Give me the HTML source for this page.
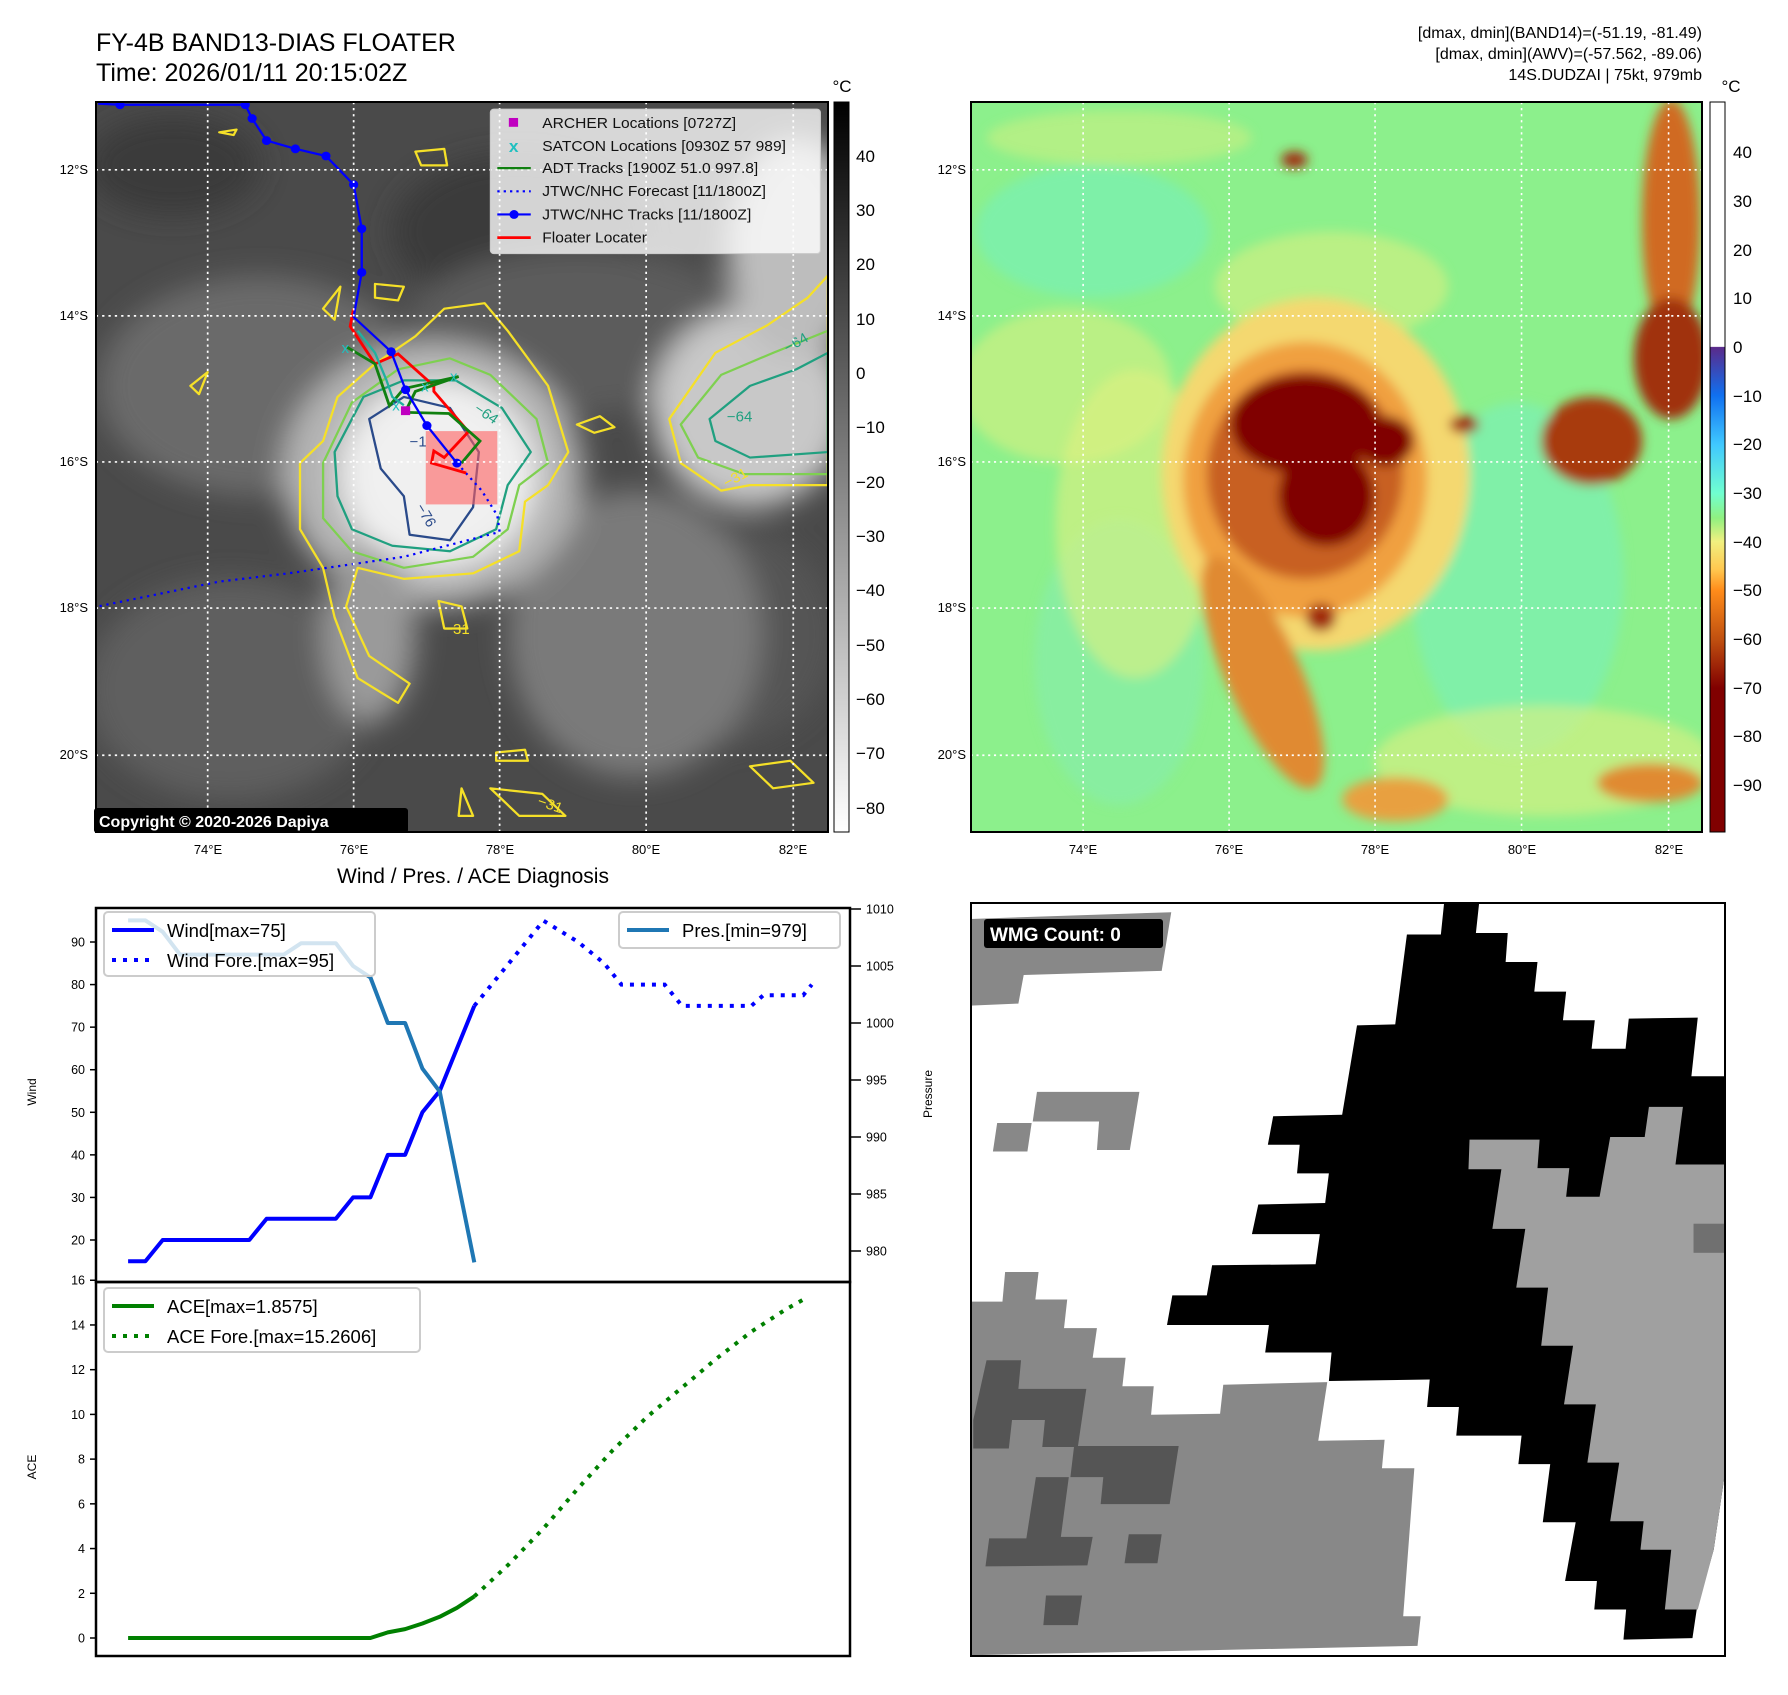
<!DOCTYPE html>
<html><head><meta charset="utf-8">
<style>
html,body{margin:0;padding:0;background:#fff;}
svg text{font-family:"Liberation Sans","DejaVu Sans",sans-serif;}
</style></head>
<body>
<svg id="root" width="1788" height="1690" viewBox="0 0 1788 1690" xmlns="http://www.w3.org/2000/svg">
<defs>
  <filter id="blur8" x="-20%" y="-20%" width="140%" height="140%"><feGaussianBlur stdDeviation="10"/></filter>
  <filter id="blur20" x="-30%" y="-30%" width="160%" height="160%"><feGaussianBlur stdDeviation="25"/></filter>
  <linearGradient id="cbGray" x1="0" y1="0" x2="0" y2="1">
    <stop offset="0" stop-color="#000"/><stop offset="1" stop-color="#fff"/>
  </linearGradient>
  <linearGradient id="cbColor" x1="0" y1="0" x2="0" y2="1">
    <stop offset="0" stop-color="#fff"/>
    <stop offset="0.335" stop-color="#fff"/>
    <stop offset="0.336" stop-color="#5a2a8a"/>
    <stop offset="0.402" stop-color="#1070f0"/>
    <stop offset="0.469" stop-color="#40c8ff"/>
    <stop offset="0.536" stop-color="#70ffd0"/>
    <stop offset="0.570" stop-color="#90f080"/>
    <stop offset="0.602" stop-color="#f0f080"/>
    <stop offset="0.640" stop-color="#ffc850"/>
    <stop offset="0.669" stop-color="#ff8c1a"/>
    <stop offset="0.736" stop-color="#c05010"/>
    <stop offset="0.803" stop-color="#800000"/>
    <stop offset="1" stop-color="#800000"/>
  </linearGradient>
  <clipPath id="clipL"><rect x="166" y="185" width="1269" height="1325"/></clipPath>
  <clipPath id="clipR"><rect x="20" y="185" width="1378" height="1325"/></clipPath>
</defs>

<!-- ================= TOP LEFT MAP ================= -->
<text x="96" y="51" font-size="25">FY-4B BAND13-DIAS FLOATER</text>
<text x="96" y="81" font-size="25">Time: 2026/01/11 20:15:02Z</text>

<svg x="0" y="0" width="900" height="860" viewBox="0 0 1560 1560" preserveAspectRatio="none">
 <g clip-path="url(#clipL)">
  <rect x="166" y="185" width="1269" height="1325" fill="#4a4a4a"/>
  <g filter="url(#blur20)">
    <ellipse cx="300" cy="300" rx="150" ry="90" fill="#3a3a3a"/>
    <ellipse cx="900" cy="420" rx="220" ry="140" fill="#3a3a3a"/>
    <ellipse cx="1250" cy="1150" rx="200" ry="200" fill="#555"/>
    <ellipse cx="450" cy="700" rx="280" ry="200" fill="#6a6a6a"/>
    <ellipse cx="1000" cy="600" rx="300" ry="150" fill="#5c5c5c"/>
    <ellipse cx="1100" cy="1150" rx="220" ry="260" fill="#7a7a7a"/>
    <ellipse cx="400" cy="1250" rx="250" ry="200" fill="#5e5e5e"/>
    <ellipse cx="1300" cy="740" rx="170" ry="180" fill="#c8c8c8"/>
    <ellipse cx="1380" cy="450" rx="120" ry="200" fill="#bdbdbd"/>
    <ellipse cx="750" cy="860" rx="260" ry="240" fill="#b4b4b4"/>
    <ellipse cx="640" cy="1150" rx="80" ry="160" fill="#9a9a9a"/>
    <ellipse cx="760" cy="860" rx="170" ry="170" fill="#f0f0f0"/>
  </g>
  <g fill="none" stroke-width="4" stroke-linejoin="round">
   <path d="M520,840 L560,800 L585,720 L650,660 L720,610 L770,560 L840,550 L880,600 L950,700 L985,820 L950,880 L910,910 L900,1000 L820,1040 L700,1050 L620,1030 L600,1100 L640,1190 L710,1240 L690,1275 L620,1230 L580,1120 L560,1030 L520,960 L520,880 Z" stroke="#f5e028"/>
   <path d="M560,840 L610,730 L690,670 L780,650 L850,680 L930,760 L950,840 L900,880 L880,960 L820,1010 L700,1030 L610,1000 L560,940 Z" stroke="#7ed050"/>
   <path d="M580,820 L630,720 L700,690 L790,690 L870,740 L920,820 L880,880 L860,960 L780,1000 L680,990 L610,960 L585,900 Z" stroke="#20a080"/>
   <path d="M640,760 L700,720 L780,740 L830,820 L820,920 L780,980 L710,970 L700,900 L660,850 Z" stroke="#2a4a8a"/>
   <path d="M1160,760 L1240,640 L1330,590 L1400,540 L1435,500 L1435,880 L1300,880 L1250,890 L1180,840 Z" stroke="#f5e028"/>
   <path d="M1180,770 L1250,680 L1340,640 L1435,600 L1435,860 L1290,860 L1210,830 Z" stroke="#7ed050"/>
   <path d="M1230,760 L1300,700 L1380,670 L1435,640 L1435,820 L1300,830 L1240,800 Z" stroke="#20a080"/>
   <path d="M560,560 L590,520 L580,580 Z M650,515 L700,520 L690,545 L650,540 Z M330,700 L360,675 L345,715 Z M1000,770 L1040,755 L1065,775 L1030,785 Z M760,1090 L800,1100 L810,1140 L770,1140 Z M860,1365 L910,1360 L915,1380 L860,1380 Z M850,1430 L940,1440 L980,1480 L900,1480 Z M1300,1390 L1370,1380 L1410,1420 L1340,1430 Z M380,240 L410,235 L405,245 Z M720,275 L770,270 L775,300 L730,300 Z M800,1430 L820,1480 L795,1480 Z" stroke="#f5e028"/>
  </g>
  <g font-size="26">
   <text x="820" y="745" fill="#20a080" transform="rotate(35 820 745)">−64</text>
   <text x="710" y="810" fill="#2a4a8a">−1</text>
   <text x="720" y="920" fill="#2a4a8a" transform="rotate(60 720 920)">−76</text>
   <text x="1260" y="765" fill="#20a080">−64</text>
   <text x="1365" y="640" fill="#20a080" transform="rotate(-30 1365 640)">−64</text>
   <text x="770" y="1150" fill="#f5e028">−31</text>
   <text x="1260" y="885" fill="#f5e028" transform="rotate(-30 1260 885)">−31</text>
   <text x="930" y="1460" fill="#f5e028" transform="rotate(20 930 1460)">−31</text>
  </g>
  <rect x="738" y="782" width="124" height="133" fill="#ff6060" fill-opacity="0.6"/>
  <polyline points="792,840 835,890 862,935 866,965 700,1010 500,1040 380,1055 170,1100" fill="none" stroke="#0000ff" stroke-width="4" stroke-dasharray="4,8"/>
  <polyline points="613,560 607,592 650,660 690,642 752,700 752,710 812,783 770,830 752,818 748,840 808,858" fill="none" stroke="#ff0000" stroke-width="5"/>
  <polyline points="602,630 650,660 675,736 700,705 795,683 720,710 702,748 778,750 832,800 800,840" fill="none" stroke="#108010" stroke-width="5"/>
  <polyline points="620,600 650,640 670,690 680,720 700,735" fill="none" stroke="#20b0a0" stroke-width="4"/>
  <g fill="#20c0c0" font-size="26">
   <text x="592" y="640">x</text><text x="680" y="745">x</text><text x="730" y="710">x</text><text x="780" y="692">x</text>
  </g>
  <rect x="695" y="737" width="16" height="16" fill="#c000c0"/>
  <polyline points="170,188 208,190 425,190 437,215 462,255 512,270 565,283 613,335 627,415 627,494 613,575 678,638 703,707 740,772 792,840" fill="none" stroke="#0000ff" stroke-width="4"/>
  <g fill="#0000ff">
   <circle cx="208" cy="190" r="8"/><circle cx="425" cy="190" r="8"/><circle cx="437" cy="215" r="8"/><circle cx="462" cy="255" r="8"/><circle cx="512" cy="270" r="8"/><circle cx="565" cy="283" r="8"/><circle cx="613" cy="335" r="8"/><circle cx="627" cy="415" r="8"/><circle cx="627" cy="494" r="8"/><circle cx="678" cy="638" r="8"/><circle cx="703" cy="707" r="8"/><circle cx="740" cy="772" r="8"/><circle cx="792" cy="840" r="8"/>
  </g>
  <g stroke="#fff" stroke-width="3" stroke-dasharray="4,7">
   <line x1="360" y1="185" x2="360" y2="1510"/><line x1="613" y1="185" x2="613" y2="1510"/><line x1="866" y1="185" x2="866" y2="1510"/><line x1="1120" y1="185" x2="1120" y2="1510"/><line x1="1375" y1="185" x2="1375" y2="1510"/>
   <line x1="166" y1="308" x2="1435" y2="308"/><line x1="166" y1="573" x2="1435" y2="573"/><line x1="166" y1="838" x2="1435" y2="838"/><line x1="166" y1="1103" x2="1435" y2="1103"/><line x1="166" y1="1370" x2="1435" y2="1370"/>
  </g>
  <g>
   <rect x="850" y="198" width="572" height="262" rx="6" fill="#fff" fill-opacity="0.78" stroke="#ccc" stroke-width="2"/>
   <rect x="882" y="214" width="16" height="16" fill="#c000c0"/>
   <text x="882" y="276" font-size="30" fill="#20c0c0" font-weight="bold">x</text>
   <line x1="862" y1="305" x2="920" y2="305" stroke="#108010" stroke-width="4"/>
   <line x1="862" y1="347" x2="920" y2="347" stroke="#0000ff" stroke-width="4" stroke-dasharray="4,7"/>
   <line x1="862" y1="389" x2="920" y2="389" stroke="#0000ff" stroke-width="4"/><circle cx="891" cy="389" r="8" fill="#0000ff"/>
   <line x1="862" y1="431" x2="920" y2="431" stroke="#ff0000" stroke-width="5"/>
   <g font-size="27" fill="#111">
    <text x="940" y="232">ARCHER Locations [0727Z]</text>
    <text x="940" y="274">SATCON Locations [0930Z 57 989]</text>
    <text x="940" y="314">ADT Tracks [1900Z 51.0 997.8]</text>
    <text x="940" y="356">JTWC/NHC Forecast [11/1800Z]</text>
    <text x="940" y="398">JTWC/NHC Tracks [11/1800Z]</text>
    <text x="940" y="440">Floater Locater</text>
   </g>
  </g>
 </g>
</svg>
<rect x="96" y="102" width="732" height="730" fill="none" stroke="#000" stroke-width="2"/>
<rect x="94" y="808" width="314" height="25" rx="3" fill="#000"/>
<text x="99" y="827" font-size="16" font-weight="bold" fill="#fff">Copyright © 2020-2026 Dapiya</text>
<g font-size="13" fill="#000" text-anchor="end">
 <text x="88" y="174">12°S</text><text x="88" y="320">14°S</text><text x="88" y="466">16°S</text><text x="88" y="612">18°S</text><text x="88" y="759">20°S</text>
</g>
<g font-size="13" fill="#000" text-anchor="middle">
 <text x="208" y="854">74°E</text><text x="354" y="854">76°E</text><text x="500" y="854">78°E</text><text x="646" y="854">80°E</text><text x="793" y="854">82°E</text>
</g>
<rect x="834" y="102" width="15" height="730" fill="url(#cbGray)" stroke="#000" stroke-width="1"/>
<text x="842" y="92" font-size="17" text-anchor="middle">°C</text>
<g font-size="17">
 <text x="856" y="162">40</text><text x="856" y="216">30</text><text x="856" y="270">20</text><text x="856" y="325">10</text><text x="856" y="379">0</text>
 <text x="856" y="433">−10</text><text x="856" y="488">−20</text><text x="856" y="542">−30</text><text x="856" y="596">−40</text><text x="856" y="651">−50</text>
 <text x="856" y="705">−60</text><text x="856" y="759">−70</text><text x="856" y="814">−80</text>
</g>

<!-- ================= TOP RIGHT MAP ================= -->
<g font-size="16" text-anchor="end">
 <text x="1702" y="38">[dmax, dmin](BAND14)=(-51.19, -81.49)</text>
 <text x="1702" y="59">[dmax, dmin](AWV)=(-57.562, -89.06)</text>
 <text x="1702" y="80">14S.DUDZAI | 75kt, 979mb</text>
</g>
<svg x="960" y="0" width="828" height="860" viewBox="0 0 1560 1560" preserveAspectRatio="none">
 <g clip-path="url(#clipR)">
  <rect x="20" y="185" width="1378" height="1325" fill="#8cf08c"/>
  <g filter="url(#blur8)">
   <ellipse cx="250" cy="420" rx="220" ry="120" fill="#7ef0a8"/>
   <ellipse cx="1050" cy="1050" rx="200" ry="320" fill="#80f0a8"/>
   <ellipse cx="300" cy="1200" rx="160" ry="260" fill="#88eea0"/>
   <ellipse cx="200" cy="700" rx="200" ry="140" fill="#d8f080" opacity="0.6"/>
   <ellipse cx="330" cy="950" rx="150" ry="280" fill="#e0f080" opacity="0.6"/>
   <ellipse cx="700" cy="520" rx="220" ry="100" fill="#d8f080" opacity="0.6"/>
   <ellipse cx="1100" cy="1380" rx="320" ry="100" fill="#e0f080" opacity="0.6"/>
   <ellipse cx="300" cy="250" rx="250" ry="50" fill="#d8f080" opacity="0.5"/>
   <ellipse cx="670" cy="860" rx="290" ry="320" fill="#f4d870"/>
   <ellipse cx="650" cy="870" rx="230" ry="250" fill="#f0a040"/>
   <ellipse cx="570" cy="1220" rx="70" ry="230" fill="#e08a30" transform="rotate(-25 570 1220)"/>
   <ellipse cx="650" cy="860" rx="185" ry="190" fill="#c86020"/>
   <ellipse cx="650" cy="770" rx="140" ry="90" fill="#800000"/>
   <ellipse cx="690" cy="900" rx="90" ry="90" fill="#800000"/>
   <ellipse cx="800" cy="800" rx="55" ry="45" fill="#800000"/>
   <ellipse cx="680" cy="1120" rx="28" ry="25" fill="#a02a10"/>
   <ellipse cx="950" cy="770" rx="28" ry="16" fill="#a02a10"/>
   <ellipse cx="1340" cy="400" rx="55" ry="220" fill="#d06a20"/>
   <ellipse cx="1340" cy="650" rx="70" ry="110" fill="#a03010"/>
   <ellipse cx="1190" cy="800" rx="95" ry="80" fill="#a83a10"/>
   <ellipse cx="1300" cy="1420" rx="100" ry="35" fill="#e08a30"/>
   <ellipse cx="820" cy="1450" rx="100" ry="40" fill="#e8a040"/>
   <ellipse cx="630" cy="290" rx="25" ry="15" fill="#a02a10"/>
  </g>
  <g stroke="#fff" stroke-width="3" stroke-dasharray="4,7">
   <line x1="232" y1="185" x2="232" y2="1510"/><line x1="507" y1="185" x2="507" y2="1510"/><line x1="782" y1="185" x2="782" y2="1510"/><line x1="1058" y1="185" x2="1058" y2="1510"/><line x1="1335" y1="185" x2="1335" y2="1510"/>
   <line x1="20" y1="308" x2="1398" y2="308"/><line x1="20" y1="573" x2="1398" y2="573"/><line x1="20" y1="838" x2="1398" y2="838"/><line x1="20" y1="1103" x2="1398" y2="1103"/><line x1="20" y1="1370" x2="1398" y2="1370"/>
  </g>
 </g>
</svg>
<rect x="971" y="102" width="731" height="730" fill="none" stroke="#000" stroke-width="2"/>
<g font-size="13" fill="#000" text-anchor="end">
 <text x="966" y="174">12°S</text><text x="966" y="320">14°S</text><text x="966" y="466">16°S</text><text x="966" y="612">18°S</text><text x="966" y="759">20°S</text>
</g>
<g font-size="13" fill="#000" text-anchor="middle">
 <text x="1083" y="854">74°E</text><text x="1229" y="854">76°E</text><text x="1375" y="854">78°E</text><text x="1522" y="854">80°E</text><text x="1669" y="854">82°E</text>
</g>
<rect x="1710" y="102" width="15" height="730" fill="url(#cbColor)" stroke="#000" stroke-width="1"/>
<text x="1731" y="92" font-size="17" text-anchor="middle">°C</text>
<g font-size="17">
 <text x="1733" y="158">40</text><text x="1733" y="207">30</text><text x="1733" y="256">20</text><text x="1733" y="304">10</text><text x="1733" y="353">0</text>
 <text x="1733" y="402">−10</text><text x="1733" y="450">−20</text><text x="1733" y="499">−30</text><text x="1733" y="548">−40</text><text x="1733" y="596">−50</text>
 <text x="1733" y="645">−60</text><text x="1733" y="694">−70</text><text x="1733" y="742">−80</text><text x="1733" y="791">−90</text>
</g>

<!-- ================= BOTTOM RIGHT WMG ================= -->
<svg x="960" y="880" width="828" height="810" viewBox="0 0 1560 1560" preserveAspectRatio="none">
 <rect x="20" y="45" width="1420" height="1450" fill="#fff"/>
 <path d="M20,75 L398,62 L380,175 L120,183 L110,238 L20,242 Z" fill="#888"/>
 <path d="M145,408 L338,408 L320,520 L258,520 L262,465 L137,465 Z M70,468 L135,468 L127,523 L62,523 Z" fill="#888"/>
 <path d="M912,45 L978,45 L972,102 L1032,102 L1028,158 L1088,158 L1082,215 L1142,215 L1136,270 L1196,270 L1190,325 L1254,325 L1260,267 L1390,265 L1378,378 L1440,378 L1440,1150 L1420,1290 L1388,1405 L1380,1460 L1250,1463 L1255,1405 L1195,1405 L1200,1350 L1140,1350 L1160,1237 L1098,1237 L1112,1125 L1052,1125 L1058,1070 L935,1070 L940,1015 L880,1015 L885,962 L695,965 L700,910 L575,910 L582,857 L390,857 L400,800 L465,800 L475,742 L670,740 L678,682 L550,682 L562,625 L688,622 L695,565 L635,565 L640,510 L580,510 L590,455 L720,452 L748,280 L820,278 L842,105 L906,105 Z" fill="#000"/>
 <path d="M960,500 L1092,500 L1088,555 L1148,555 L1142,610 L1205,610 L1225,495 L1290,495 L1298,437 L1362,437 L1348,548 L1440,548 L1440,1150 L1420,1290 L1390,1405 L1328,1405 L1340,1290 L1282,1290 L1288,1235 L1225,1235 L1242,1122 L1182,1122 L1198,1010 L1138,1010 L1155,897 L1095,897 L1108,785 L1048,785 L1065,672 L1003,672 L1020,557 L958,557 Z" fill="#a0a0a0"/>
 <rect x="1382" y="662" width="58" height="56" fill="#707070"/>
 <path d="M20,812 L80,812 L85,755 L148,755 L142,808 L202,808 L196,863 L258,863 L250,920 L312,920 L306,975 L365,975 L360,1030 L490,1028 L496,972 L692,967 L675,1080 L800,1078 L795,1133 L856,1133 L835,1418 L868,1418 L862,1475 L20,1493 Z" fill="#888"/>
 <path d="M50,925 L115,925 L110,980 L238,980 L222,1092 L155,1092 L160,1040 L98,1040 L92,1095 L25,1095 L25,1040 Z M215,1090 L412,1090 L395,1202 L265,1202 L270,1150 L208,1150 Z M143,1150 L205,1150 L190,1265 L250,1265 L240,1320 L48,1322 L55,1268 L125,1268 Z M318,1260 L380,1260 L372,1316 L310,1316 Z M162,1378 L230,1378 L222,1435 L157,1435 Z" fill="#555"/>
</svg>
<rect x="971" y="903" width="754" height="753" fill="none" stroke="#000" stroke-width="2"/>
<rect x="984" y="919" width="179" height="29" rx="3" fill="#000"/>
<text x="990" y="941" font-size="19" font-weight="bold" fill="#fff">WMG Count: 0</text>

<!-- ================= BOTTOM LEFT CHART ================= -->
<text x="473" y="883" font-size="21" text-anchor="middle">Wind / Pres. / ACE Diagnosis</text>
<g id="chart"></g>
</svg>

<script>
// ---- chart data ----
const windIdx = [0,1,2,3,4,5,6,7,8,9,10,11,12,13,14,15,16,17,18,19,20];
const windVals = [15,15,20,20,20,20,20,20,25,25,25,25,25,30,30,40,40,50,55,65,75];
const presVals = [1009,1009,1008,1006,1006,1006,1006,1006,1006,1006,1007,1007,1007,1005,1004,1000,1000,996,994,986.5,979];
const windForeIdx = [20,22,24,26,27.5,28.5,31,32,36,36.7,39,39.5];
const windForeVals = [75,85,95,90,85,80,80,75,75,77.5,77.5,80];
const aceVals = [0,0,0,0,0,0,0,0,0,0,0,0,0,0,0,0.25,0.4,0.65,0.95,1.35,1.86];
const aceForeIdx = [20,22,24,26,28,30,32,34,36,38,39.3];
const aceForeVals = [1.86,3.3,4.9,6.7,8.4,9.9,11.2,12.5,13.7,14.7,15.26];
const windTicks = [20,30,40,50,60,70,80,90];
const presTicks = [980,985,990,995,1000,1005,1010];
const aceTicks = [0,2,4,6,8,10,12,14,16];

// ---- axis functions ----
const X0 = 96, X1 = 850, TOP = 908, MID = 1282, BOT = 1656;
function xS(i){ return 128.1 + 17.31*i; }
function yW(v){ return 1240 - (v-20)*4.257; }
function yP(p){ return 1251 - (p-980)*11.4; }
function yA(a){ return 1638 - a*22.36; }

const NS = "http://www.w3.org/2000/svg";
const chart = document.getElementById('chart');
function mk(tag, attrs, parent){
  const el = document.createElementNS(NS, tag);
  for (const k in attrs) el.setAttribute(k, attrs[k]);
  (parent||chart).appendChild(el);
  return el;
}
function pts(xs, ys, fy){ return xs.map((x,j)=>xS(x).toFixed(1)+','+fy(ys[j]).toFixed(1)).join(' '); }

let el;
el = mk('rect',{x:X0,y:TOP,width:X1-X0,height:MID-TOP,fill:'none',stroke:'#000','stroke-width':2.5});


el = mk('rect',{x:X0,y:MID,width:X1-X0,height:BOT-MID,fill:'none',stroke:'#000','stroke-width':2.5});



windTicks.forEach(v=>{
  const y = yW(v);
  el = mk('line',{x1:X0-6,y1:y,x2:X0,y2:y,stroke:'#000','stroke-width':1.5});
  
  
  el = mk('text',{x:X0-11,y:y+4.5,'font-size':12.5,'text-anchor':'end'});
  el.textContent = v;
  
  
});
presTicks.forEach(v=>{
  const y = yP(v);
  el = mk('line',{x1:X1,y1:y,x2:X1+11,y2:y,stroke:'#000','stroke-width':1.5});
  
  
  el = mk('text',{x:X1+16,y:y+4.5,'font-size':12.5});
  el.textContent = v;
  
  
});
aceTicks.forEach(v=>{
  const y = yA(v);
  el = mk('line',{x1:X0-6,y1:y,x2:X0,y2:y,stroke:'#000','stroke-width':1.5});
  
  
  el = mk('text',{x:X0-11,y:y+4.5,'font-size':12.5,'text-anchor':'end'});
  el.textContent = v;
  
  
});
el = mk('text',{x:36,y:1092,'font-size':12,'text-anchor':'middle',transform:'rotate(-90 36 1092)'});
el.textContent = 'Wind';


el = mk('text',{x:36,y:1467,'font-size':12,'text-anchor':'middle',transform:'rotate(-90 36 1467)'});
el.textContent = 'ACE';


el = mk('text',{x:932,y:1094,'font-size':12,'text-anchor':'middle',transform:'rotate(-90 932 1094)'});
el.textContent = 'Pressure';



el = mk('polyline',{points:pts(windIdx,windVals,yW),fill:'none',stroke:'#0000ff','stroke-width':4,'stroke-linejoin':'round'});


el = mk('polyline',{points:pts(windForeIdx,windForeVals,yW),fill:'none',stroke:'#0000ff','stroke-width':4,'stroke-dasharray':'4,7'});


el = mk('polyline',{points:pts(windIdx,presVals,yP),fill:'none',stroke:'#1f77b4','stroke-width':4,'stroke-linejoin':'round'});


el = mk('polyline',{points:pts(windIdx,aceVals,yA),fill:'none',stroke:'#008000','stroke-width':4,'stroke-linejoin':'round'});


el = mk('polyline',{points:pts(aceForeIdx,aceForeVals,yA),fill:'none',stroke:'#008000','stroke-width':4,'stroke-dasharray':'4,7'});



function legend(name, x, y, w, h, items){
  const g = mk('g',{});
  
  
  mk('rect',{x:x,y:y,width:w,height:h,rx:4,fill:'#fff','fill-opacity':0.8,stroke:'#ccc','stroke-width':2},g);
  items.forEach((it,k)=>{
    const ly = y+18+k*30;
    mk('line',{x1:x+8,y1:ly,x2:x+50,y2:ly,stroke:it.c,'stroke-width':4,'stroke-dasharray':it.d||'none'},g);
    const t = mk('text',{x:x+63,y:ly+7,'font-size':18.5},g);
    t.textContent = it.t;
  });
}
legend('wind-legend',104,912,271,64,[{c:'#0000ff',t:'Wind[max=75]'},{c:'#0000ff',t:'Wind Fore.[max=95]',d:'4,7'}]);
legend('pressure-legend',619,912,221,36,[{c:'#1f77b4',t:'Pres.[min=979]'}]);
legend('ace-legend',104,1288,316,64,[{c:'#008000',t:'ACE[max=1.8575]'},{c:'#008000',t:'ACE Fore.[max=15.2606]',d:'4,7'}]);
</script>
</body></html>
